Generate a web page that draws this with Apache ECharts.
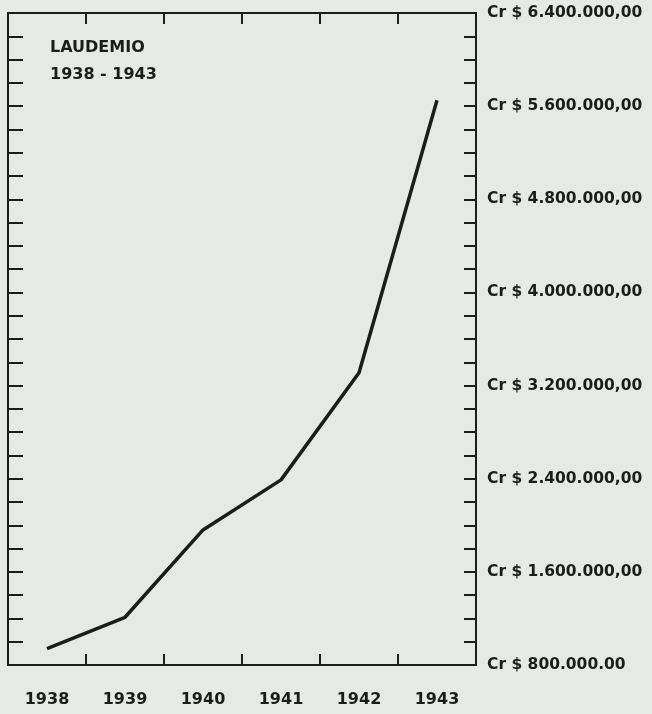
<!DOCTYPE html>
<html>
<head>
<meta charset="utf-8">
<script src="https://cdn.jsdelivr.net/npm/echarts@6/dist/echarts.min.js"></script>
<style>
  html, body { margin: 0; padding: 0; background: #e5eae4; }
  #chart { width: 652px; height: 714px; }
</style>
</head>
<body>
<div id="chart"></div>
<script>
// anos e valores do laudemio (Cr$)
const anos = ['1938', '1939', '1940', '1941', '1942', '1943']
const laudemio = [940000, 1210000, 1960000, 2390000, 3310000, 5650000]
// rotulos do eixo direito, de baixo para cima
const rotulos = ['Cr $ 800.000.00', 'Cr $ 1.600.000,00', 'Cr $ 2.400.000,00', 'Cr $ 3.200.000,00',
  'Cr $ 4.000.000,00', 'Cr $ 4.800.000,00', 'Cr $ 5.600.000,00', 'Cr $ 6.400.000,00']

const tinta = '#1c1c1c'
const fonte = 'DejaVu Sans'

const chart = echarts.init(document.getElementById('chart'))
const eixoLinha = { show: true, lineStyle: { color: tinta, width: 2 } }

chart.setOption({
  backgroundColor: '#e5eae4',
  animation: false,
  title: {
    text: 'LAUDEMIO\n1938 - 1943',
    left: 45,
    top: 29,
    textStyle: { color: tinta, fontFamily: fonte, fontSize: 16, fontWeight: 'bold', lineHeight: 27 }
  },
  grid: { left: 8, right: 176, top: 13, bottom: 49 },
  xAxis: [{
    type: 'category',
    data: anos,
    position: 'bottom',
    boundaryGap: true,
    axisLine: eixoLinha,
    axisTick: { show: true, inside: true, length: 11, lineStyle: { color: tinta, width: 2 } },
    axisLabel: { color: tinta, fontFamily: fonte, fontSize: 16, fontWeight: 'bold', margin: 27 },
    splitLine: { show: false }
  }, {
    type: 'category',
    data: anos,
    position: 'top',
    boundaryGap: true,
    axisLine: eixoLinha,
    axisTick: { show: true, inside: true, length: 11, lineStyle: { color: tinta, width: 2 } },
    axisLabel: { show: false },
    splitLine: { show: false }
  }],
  yAxis: [{
    type: 'value',
    position: 'right',
    min: 800000,
    max: 6400000,
    interval: 800000,
    axisLine: eixoLinha,
    axisTick: { show: true, inside: true, length: 12, lineStyle: { color: tinta, width: 2 } },
    minorTick: { show: true, splitNumber: 4, length: 12, lineStyle: { color: tinta, width: 2 } },
    axisLabel: {
      color: tinta, fontFamily: fonte, fontSize: 15.5, fontWeight: 'bold', margin: 11,
      formatter: (v) => rotulos[Math.round(v / 800000) - 1]
    },
    splitLine: { show: false }
  }, {
    type: 'value',
    position: 'left',
    min: 800000,
    max: 6400000,
    interval: 800000,
    axisLine: eixoLinha,
    axisTick: { show: true, inside: true, length: 15, lineStyle: { color: tinta, width: 2 } },
    minorTick: { show: true, splitNumber: 4, length: 15, lineStyle: { color: tinta, width: 2 } },
    axisLabel: { show: false },
    splitLine: { show: false }
  }],
  series: [{
    type: 'line',
    data: laudemio,
    xAxisIndex: 0,
    yAxisIndex: 0,
    symbol: 'none',
    lineStyle: { color: tinta, width: 3.5 }
  }]
})
</script>
</body>
</html>
